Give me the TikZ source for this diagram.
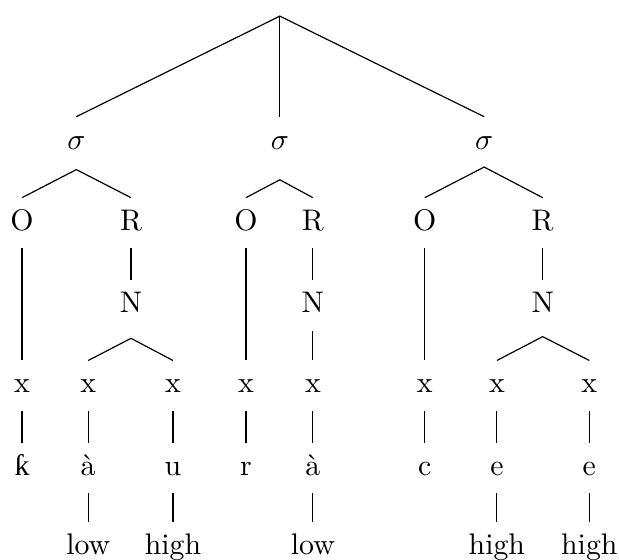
\documentclass[tikz,border=0pt]{standalone}
\usepackage{fontspec}
\usepackage{tikz}
\newfontfamily\hookfont{Liberation Serif}

\begin{document}
\begin{tikzpicture}[seg/.style={inner sep=3.7pt, text height=7pt, text depth=2.2pt}]
    \useasboundingbox (0,0) rectangle (7.30,-6.60);
    % word and syllables
    \coordinate (w) at (3.30,-0.19);
    \node[seg] (s1) at (0.90,-1.675) {$\sigma$};
    \node[seg] (s2) at (3.30,-1.675) {$\sigma$};
    \node[seg] (s3) at (5.71,-1.675) {$\sigma$};
    \coordinate (s1f) at (0.90,-2.00);
    \coordinate (s2f) at (3.30,-2.12);
    \coordinate (s3f) at (5.71,-1.97);
    % onsets, rimes, nuclei
    \node[seg] (o1) at (0.26,-2.63) {O};
    \node[seg] (r1) at (1.545,-2.63) {R};
    \node[seg] (o2) at (2.90,-2.63) {O};
    \node[seg] (r2) at (3.69,-2.63) {R};
    \node[seg] (o3) at (5.01,-2.63) {O};
    \node[seg] (r3) at (6.40,-2.63) {R};
    \node[seg] (n1) at (1.545,-3.60) {N};
    \node[seg] (n2) at (3.69,-3.60) {N};
    \node[seg] (n3) at (6.40,-3.60) {N};
    \coordinate (n1f) at (1.545,-3.99);
    \coordinate (n3f) at (6.40,-3.97);
    % skeletal slots
    \foreach \i/\px in {1/0.26, 2/1.04, 3/2.04, 4/2.90, 5/3.69, 6/5.01, 7/5.86, 8/6.95}
        \node[seg] (x\i) at (\px,-4.55) {x};
    % segments
    \node[seg] (k) at (0.26,-5.52) {\hookfont ƙ};
    \node[seg] (a1) at (1.04,-5.52) {à};
    \node[seg] (u) at (2.04,-5.52) {u};
    \node[seg] (r) at (2.90,-5.52) {r};
    \node[seg] (a2) at (3.69,-5.52) {à};
    \node[seg] (c) at (5.01,-5.52) {c};
    \node[seg] (e1) at (5.86,-5.52) {e};
    \node[seg] (e2) at (6.95,-5.52) {e};
    % tones
    \node[seg] (t1) at (1.04,-6.46) {low};
    \node[seg] (t2) at (2.04,-6.46) {high};
    \node[seg] (t3) at (3.69,-6.46) {low};
    \node[seg] (t4) at (5.86,-6.46) {high};
    \node[seg] (t5) at (6.95,-6.46) {high};

    % branches
    \draw (s1.north) -- (w) -- (s3.north);
    \draw (w) -- (s2.north);
    \draw (o1.north) -- (s1f) -- (r1.north);
    \draw (o2.north) -- (s2f) -- (r2.north);
    \draw (o3.north) -- (s3f) -- (r3.north);
    \draw (x2.north) -- (n1f) -- (x3.north);
    \draw (x7.north) -- (n3f) -- (x8.north);
    \foreach \a/\b in {o1/x1, r1/n1, o2/x4, r2/n2, n2/x5, o3/x6, r3/n3,
                       x1/k, x2/a1, x3/u, x4/r, x5/a2, x6/c, x7/e1, x8/e2,
                       a1/t1, u/t2, a2/t3, e1/t4, e2/t5}
        \draw (\a.south) -- (\b.north);
\end{tikzpicture}
\end{document}
